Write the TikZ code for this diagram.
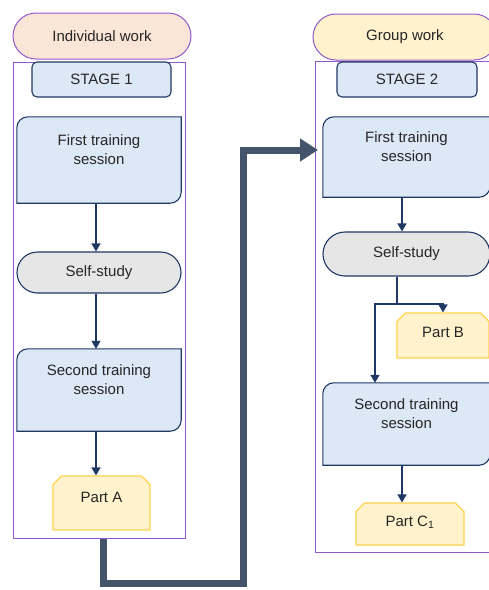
\documentclass[tikz,border=0pt]{standalone}
\usepackage{fontspec}
\setmainfont{Liberation Sans}
\usepackage{xcolor}
\usetikzlibrary{shapes.misc,arrows.meta,backgrounds}

\definecolor{navyline}{HTML}{203864}
\definecolor{stageblue}{HTML}{DCE8F6}
\definecolor{workpurple}{HTML}{9359C9}
\definecolor{peachfill}{HTML}{FBE5D6}
\definecolor{partfill}{HTML}{FFF2CC}
\definecolor{partline}{HTML}{FFD34F}
\definecolor{selfgray}{HTML}{E6E6E6}
\definecolor{slatearrow}{HTML}{44546A}

\newcommand{\trainoutline}[1]{%
    \filldraw[draw=navyline, fill=stageblue, line width=1.1pt]
        (#1.south west) -- ([yshift=-11pt]#1.north west)
        .. controls ([yshift=-5pt]#1.north west) and ([xshift=5pt]#1.north west) .. ([xshift=11pt]#1.north west)
        -- (#1.north east) -- ([yshift=11pt]#1.south east)
        .. controls ([yshift=5pt]#1.south east) and ([xshift=-5pt]#1.south east) .. ([xshift=-11pt]#1.south east)
        -- cycle;}

\tikzset{
    every node/.style={font=\fontsize{15pt}{19pt}\selectfont, text=black!85, inner sep=0pt},
    workhead/.style={rounded rectangle, draw=workpurple, line width=1pt, minimum height=46pt},
    stagepanel/.style={rectangle, draw=workpurple, line width=1pt},
    stagebox/.style={rectangle, rounded corners=5pt, draw=navyline, fill=stageblue, line width=1.1pt, minimum height=35pt},
    trainbox/.style={rectangle, align=center, text depth=20pt, minimum height=82pt},
    selfbox/.style={rounded rectangle, draw=navyline, fill=selfgray, line width=1.1pt},
    partbox/.style={chamfered rectangle, chamfered rectangle corners={north west,north east}, chamfered rectangle xsep=5pt, draw=partline, fill=partfill, line width=1.1pt},
    flow/.style={draw=navyline, line width=1.3pt, -{Triangle[length=8pt,width=9pt]}},
    bigflow/.style={draw=slatearrow, line width=7pt, -{Triangle[length=18pt,width=22pt]}}
}

\begin{document}
\begin{tikzpicture}[x=1pt, y=-1pt]
    \useasboundingbox (0,0) rectangle (489,590);
    \clip (0,0) rectangle (489,590);

    % stage 1
    \node[workhead, fill=peachfill, minimum width=178pt] (indiv) at (102,36) {Individual work};
    \node[stagepanel, minimum width=172pt, minimum height=476pt] (cont1) at (99,300) {};
    \node[stagebox, minimum width=139pt] (stage1) at (101.5,79.5) {STAGE 1};
    \node[trainbox, minimum width=164pt, minimum height=86pt] (first1) at (99,160) {First training\\session};
    \node[selfbox, minimum width=164pt, minimum height=41pt] (self1) at (99,272.5) {Self-study};
    \node[trainbox, minimum width=164pt] (second1) at (99,390) {Second training\\session};
    \node[partbox, minimum width=97pt, minimum height=54pt, text depth=12pt] (parta) at (101.5,503) {Part A};

    % stage 2
    \node[workhead, fill=partfill, minimum width=184pt] (group) at (405,37) {Group work};
    \node[stagepanel, minimum width=178pt, minimum height=491pt] (cont2) at (404,306.5) {};
    \node[stagebox, minimum width=140pt] (stage2) at (407,79.5) {STAGE 2};
    \node[trainbox, minimum width=167pt, minimum height=80pt] (first2) at (406.5,157) {First training\\session};
    \node[selfbox, minimum width=167pt, minimum height=44pt] (self2) at (406.5,254) {Self-study};
    \node[partbox, minimum width=92pt, minimum height=45pt, text depth=7pt] (partb) at (443,335.5) {Part B};
    \node[trainbox, minimum width=167pt] (second2) at (406.5,424) {Second training\\session};
    \node[partbox, minimum width=108pt, minimum height=42pt, text depth=6pt] (partc) at (410,524) {Part C\textsubscript{1}};

    \begin{scope}[on background layer]
        \foreach \train in {first1,second1,first2,second2}
            \trainoutline{\train};
    \end{scope}

    \draw[flow] ([xshift=-3pt]first1.south) -- ([xshift=-3pt]self1.north);
    \draw[flow] ([xshift=-3pt]self1.south) -- ([xshift=-3pt]second1.north);
    \draw[flow] ([xshift=-3pt]second1.south) -- ([xshift=-3pt]second1.south |- parta.north);

    \coordinate (split) at (397,304);
    \draw[flow] ([xshift=-4.5pt]first2.south) -- ([xshift=-4.5pt]self2.north);
    \draw[navyline, line width=1.3pt] ([xshift=-9.5pt]self2.south) -- (split);
    \draw[flow] (split) -| ([xshift=-31.5pt]second2.north);
    \draw[flow] (split) -| (partb.north);
    \draw[flow] ([xshift=-4.5pt]second2.south) -- ([xshift=-4.5pt]second2.south |- partc.north);

    \coordinate (turn) at (243,583);
    \coordinate (handover) at (318,150);
    \draw[bigflow] ([xshift=4pt]cont1.south) |- (turn) |- (handover);
\end{tikzpicture}
\end{document}
